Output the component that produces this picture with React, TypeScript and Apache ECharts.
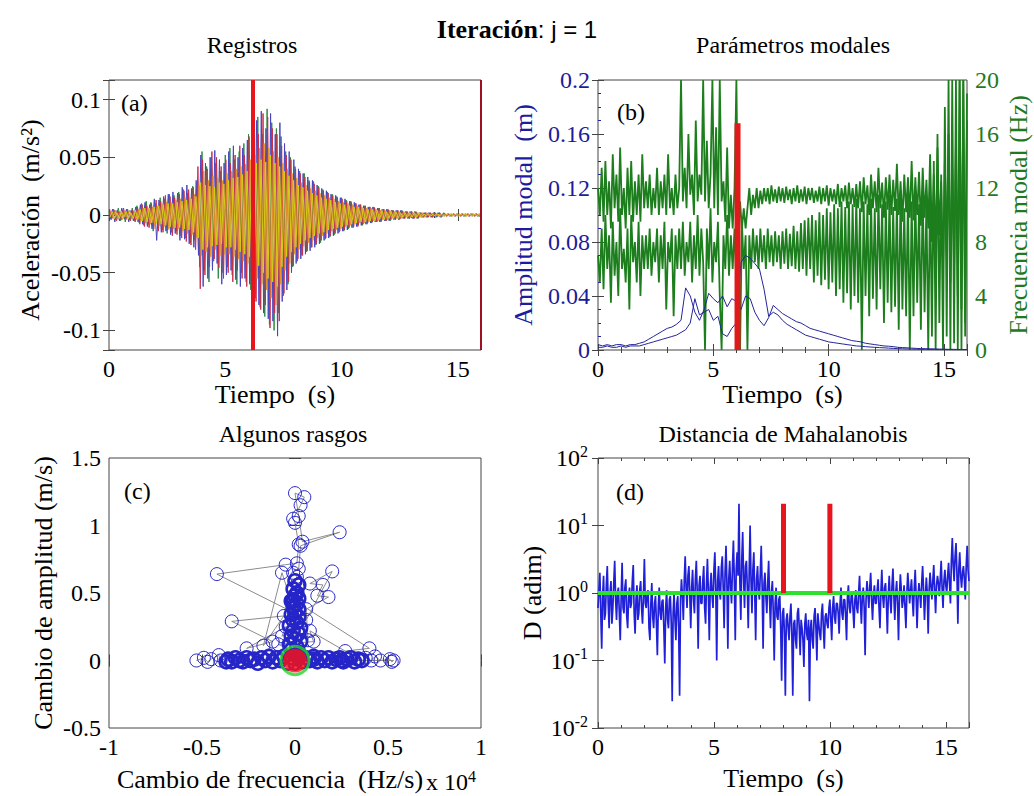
import React, { useEffect, useRef } from "react";
import * as echarts from "echarts";

const SERIF = "Liberation Serif";

// ---------- (a) Registros: accelerations, mm/s^2, sampled every accStep s ----------
const accStep = 0.1;
const accGreen = [3,-4,5,-3,6,-5,4,-6,5,-4,6,
 -5,8,-7,10,-9,12,-8,11,-14,10,
 -12,15,-13,14,-16,18,-15,17,-14,20,
 -18,22,-20,19,-24,25,-22,28,-45,55,
 -48,42,-58,50,-40,45,-55,38,-50,52,
 -45,58,-52,48,-60,55,-50,62,-58,70,
 -65,78,-72,85,-80,70,-88,92,-95,80,
 -100,75,-85,68,-70,55,-60,50,-45,42,
 -40,38,-35,36,-32,30,-28,29,-26,25,
 -24,22,-21,20,-19,18,-17,16,-15,15,
 -14,13,-12,12,-11,10,-10,9,-9,8,
 -8,7,-7,7,-6,6,-6,5,-5,5,
 -5,4,-4,4,-4,4,-3,3,-3,3,
 -3,3,-3,2,-2,2,-2,2,-2,2,
 -2,2,-2,2,-1,1,-1,1,-1,1,
 -1,1,-1,1,-1,1,-1,1,-1,0];
const accBlue = [-4,5,-6,4,-5,6,-3,5,-6,4,-5,
 7,-6,9,-8,11,-10,9,-12,14,-22,
 13,-15,16,-14,18,-17,20,-16,19,-22,
 24,-21,26,-25,23,-28,30,-35,52,-62,
 45,-55,50,-48,56,-42,48,-60,45,-52,
 55,-48,60,-56,50,-62,58,-55,65,-60,
 72,-70,82,-78,90,-85,75,-90,88,-92,
 70,-105,80,-75,62,-65,55,-50,48,-42,
 40,-38,36,-34,33,-31,30,-28,26,-25,
 23,-22,21,-20,18,-18,17,-16,15,-14,
 14,-13,12,-11,11,-10,9,-9,8,-8,
 7,-7,7,-6,6,-6,5,-5,5,-5,
 4,-4,4,-4,4,-3,3,-3,3,-3,
 3,-3,2,-2,2,-2,2,-2,2,-2,
 2,-2,1,-1,1,-1,1,-1,1,-1,
 1,-1,1,-1,1,-1,1,-1,1,0];
const accRed = [5,-3,4,-5,3,-4,6,-4,3,-5,4,
 -6,7,-8,9,-10,8,-11,10,-12,13,
 -14,12,-15,17,-13,16,-18,15,-17,18,
 -20,21,-23,22,-26,24,-30,42,-64,48,
 -52,40,-45,55,-38,50,-46,42,-55,48,
 -50,45,-58,52,-48,60,-55,52,-62,68,
 -60,65,-75,70,-82,88,-78,85,-98,75,
 -85,70,-92,60,-68,52,-58,48,-44,40,
 -38,36,-35,33,-31,29,-28,27,-25,24,
 -22,21,-20,19,-18,17,-16,15,-14,14,
 -13,12,-11,11,-10,10,-9,9,-8,8,
 -7,7,-6,6,-6,6,-5,5,-5,4,
 -4,4,-4,4,-3,3,-3,3,-3,3,
 -3,2,-2,2,-2,2,-2,2,-2,2,
 -1,2,-1,1,-1,1,-1,1,-1,1,
 -1,1,-1,1,-1,1,-1,1,-1,0];
const accOrange = [3,-2,4,-3,2,-4,3,-2,4,-3,2,
 -4,5,-5,6,-7,6,-8,7,-9,8,
 -9,10,-10,11,-12,11,-12,13,-12,14,
 -14,15,-16,15,-17,18,-20,25,-35,38,
 -32,30,-36,34,-30,32,-35,30,-34,36,
 -34,38,-36,40,-38,42,-40,44,-42,48,
 -46,52,-55,58,-60,62,-65,58,-72,55,
 -78,50,-60,45,-48,40,-42,36,-34,32,
 -30,28,-27,26,-24,23,-22,21,-20,19,
 -18,17,-16,15,-14,14,-13,12,-12,11,
 -10,10,-9,9,-8,8,-7,7,-7,6,
 -6,6,-5,5,-5,4,-4,4,-4,4,
 -3,3,-3,3,-3,3,-2,2,-2,2,
 -2,2,-2,2,-2,2,-1,1,-1,1,
 -1,1,-1,1,-1,1,-1,1,-1,1,
 -1,1,-1,1,-1,1,-1,1,-1,0];
const accYellow = [-2,3,-3,2,-3,3,-2,3,-3,2,-3,
 4,-4,5,-5,6,-6,6,-7,7,-7,
 8,-8,9,-9,10,-10,10,-11,11,-11,
 12,-12,13,-13,14,-15,16,-20,28,-30,
 26,-28,25,-27,24,-26,28,-25,27,-28,
 30,-28,32,-30,33,-32,35,-34,38,-36,
 40,-42,45,-44,48,-50,46,-55,52,-58,
 45,-62,42,-45,38,-36,34,-32,30,-28,
 26,-25,24,-22,21,-20,19,-18,17,-16,
 15,-15,14,-13,13,-12,11,-11,10,-10,
 9,-9,8,-8,7,-7,7,-6,6,-6,
 5,-5,5,-5,4,-4,4,-4,3,-3,
 3,-3,3,-3,2,-2,2,-2,2,-2,
 2,-2,2,-2,1,-1,1,-1,1,-1,
 1,-1,1,-1,1,-1,1,-1,1,-1,
 1,-1,1,-1,1,-1,1,-1,1,0];
// start time of each channel's sampling (s)
const accStart = [0, 0.05, 0.025, 0.075, 0.04];
const accEventTime = 6.2;
const accEndTime = 16;

// ---------- (b) Parámetros modales ----------
const freqStep = 0.08;
const freqUpper = [12,10,13.5,9.5,14,10,12.5,9,14.5,10.5,
 13,9.5,15,10,12,9,13.5,10,14,9.5,
 12.5,10,13,9.5,14.5,10.5,
 12.5,10.5,13,10,12,10.5,13.5,10,12.5,10.5,
 13,10,14.5,10.5,12,10,13,10.5,12,
 20,
 11,13.5,10.5,16,11.5,13,10,17,11,13,
 11.5,20,11,15.5,10.5,13,20,10.5,16.5,10,
 20,11,12.5,9.5,15,9,11.5,9,12,20,
 8.5,11,9,10.5,9,
 10.5,12,10,11.5,10.5,12,10.5,11.8,10.8,12,
 11,12,10.8,12.2,11,11.9,10.9,12.1,11,12,
 10.9,12.1,11.1,11.9,10.8,12,11,12.2,10.9,11.9,
 11,12.1,10.8,12,11.1,12,10.9,11.8,11,12.1,
 10.8,12,11,12.2,10.7,12,11,11.9,10.8,12.3,
 10.6,12,11,12.2,10.5,12.4,10.8,12,10.6,12.3,
 10.5,12.5,10.2,12.8,10.8,12.2,10,13,10.5,12.5,
 10.2,13.5,10.5,12.4,9.8,12.8,10.4,13,10,12.6,
 10.3,13.8,10,12.5,9.5,13,10.2,12.8,9.8,14,
 9.6,12.8,10,13.2,9.2,13.5,9.8,12.6,9,14.5,
 8,13,7.5,15,8.5,12.5,6,14,7,16,
 5,13.5,6,15.5,4,20,3,20,2,19];
const freqLower = [7,5,9,4.5,10,6,8.5,3.5,9.5,5.5,
 8,4,10.5,6,7.5,5,9,3,10,6.5,
 8,5,9.5,4,8.5,6,
 8.5,6,9,5.5,8,6.5,9,5,8.5,6,
 9.5,3,8,6.5,9,2.5,8.5,6,9,
 6,9.5,5.5,8,6.5,9.5,5,8.5,6,10,
 5.5,9,6.5,0,9,6,10.5,5,8,6.5,
 9.5,4,0,8.5,6,10,5.5,8.5,6,9,
 5,8,0,9.5,6,8.5,
 0,8.5,6,9,6.5,8.5,6,9,6.5,8.5,
 6,9,6.5,8.5,6.2,8.8,6.5,8.5,6,8.8,
 6.4,9,6,8.6,6.2,9.2,6,8.8,5.8,9.4,
 6,9.6,5.5,9.8,6,10,5,9.6,5.5,10.2,
 4.8,10,5.2,10.5,4.5,10.2,5,10.8,4,10.5,
 4.5,11,3.5,10.6,4.2,11,3,10.8,4,11.2,
 3.5,10.5,0,11,4,10.8,2.5,11.2,3.8,10.5,
 3,11.5,4.5,10.8,2,11,3.5,11.5,2.8,10.6,
 3.2,11.2,1.5,11.8,3,10.5,2.5,11.4,0,11,
 2.5,11.8,3.5,10.8,1.5,12,2.8,11,0,12.2,
 1,14,0,16,2,13,0,18,1,20,
 0,20,0.5,20,0,20,0,20,1,17];
const ampStep = 0.2;
const ampMode1 = [.004,.003,.004,.003,.004,.004,.003,.004,.004,.005,
 .006,.008,.010,.012,.014,.016,.017,.019,.022,.046,
 .040,.028,.022,.030,.042,.038,.035,.040,.032,.038,
 .036,.030,.040,.038,.028,.022,.018,.024,.033,.030,
 .027,.025,.023,.021,.020,.018,.016,.015,.014,.013,
 .012,.011,.010,.009,.008,.007,.0065,.006,.005,.0045,
 .004,.0035,.003,.0028,.0025,.002,.0018,.0016,.0014,.0012,
 .001,.001,.0009,.0008,.0007,.0006,.0005,.0005,.0004,.0004,
 .0003];
const ampMode2 = [.002,.002,.003,.002,.002,.003,.002,.003,.003,.003,
 .004,.005,.006,.007,.008,.009,.010,.011,.013,.015,
 .020,.038,.026,.028,.030,.022,.025,.012,.010,.016,
 .020,.065,.070,.068,.064,.060,.045,.025,.028,.026,
 .022,.019,.017,.015,.013,.011,.010,.009,.008,.007,
 .006,.0055,.005,.0045,.004,.0035,.003,.0028,.0025,.0022,
 .002,.0018,.0016,.0014,.0012,.001,.0009,.0008,.0007,.0006,
 .0005,.0005,.0004,.0004,.0003,.0003,.0003,.0002,.0002,.0002,
 .0002];
const modalEventTime = 6.05;
const modalEventHeight = 0.168;

// ---------- (c) Algunos rasgos: [cambio de frecuencia (x1e4 Hz/s), cambio de amplitud (m/s)] ----------
const featPath = [
 [-0.53,0.0],[-0.49,0.02],[-0.47,-0.01],[-0.45,0.01],[-0.41,0.04],[-0.4,0.0],[-0.37,-0.01],
 [-0.36,0.01],[-0.34,-0.01],[-0.32,0.02],[-0.30,0.0],[-0.28,-0.01],[-0.26,0.02],[-0.24,0.0],[-0.22,0.01],
 [-0.20,-0.02],[-0.18,0.02],[-0.16,0.0],[-0.14,0.03],[-0.12,-0.01],[-0.10,0.02],[-0.08,0.0],[-0.06,0.03],
 [-0.04,-0.02],[-0.02,0.02],[0.0,-0.02],[0.02,0.03],[0.04,-0.01],[0.06,0.02],[0.08,0.0],[0.10,0.03],
 [0.12,-0.01],[0.14,0.02],[0.16,0.0],[0.18,0.02],[0.20,-0.01],[0.22,0.01],[0.24,0.02],[0.26,-0.01],
 [0.28,0.01],[0.30,0.02],[0.32,-0.01],[0.34,0.01],[0.36,0.0],
 [0.38,0.02],[0.41,0.0],[0.43,0.03],[0.46,0.0],[0.51,0.01],[0.52,-0.01],[0.53,0.0],
 [0.25,0.0],[0.1,0.01],[0.02,0.02],
 [0.0,0.04],[0.02,0.06],[-0.02,0.08],[0.01,0.10],[-0.03,0.12],[0.03,0.14],[0.0,0.16],[-0.02,0.18],
 [0.02,0.20],[-0.01,0.22],[0.03,0.24],[-0.03,0.26],[0.01,0.28],[-0.01,0.30],[0.02,0.32],[-0.02,0.34],
 [0.0,0.36],[0.02,0.38],[-0.01,0.40],[0.01,0.42],[-0.02,0.44],[0.02,0.46],[0.0,0.48],[0.01,0.50],
 [-0.01,0.53],[0.02,0.56],[0.0,0.59],[0.01,0.62],[-0.01,0.65],[0.02,0.68],
 [0.03,0.85],[0.24,0.95],[0.04,0.88],[0.02,1.07],[0.0,1.24],[0.05,1.21],[0.03,1.15],
 [-0.01,1.05],[0.0,1.02],[0.02,0.86],[0.01,0.72],[-0.05,0.71],[-0.42,0.64],[0.0,0.35],[-0.07,0.65],[-0.17,0.11],[-0.06,0.33],
 [-0.34,0.29],[-0.12,0.14],[-0.26,0.09],[-0.05,0.25],[-0.07,0.18],[0.06,0.3],[0.2,0.66],[0.08,0.57],[0.15,0.56],[0.12,0.48],
 [0.18,0.47],[0.06,0.38],[0.07,0.15],[-0.01,0.45],[0.4,0.09],[0.27,0.07],[0.08,0.22],[0.1,0.14],[-0.09,0.12],[0.02,0.05]
];
const featCenter = [0, 0];

// ---------- (d) Distancia de Mahalanobis (sampled every distStep s) ----------
const distStep = 0.04;
const distValues = [
 0.6,1.1,2,0.5,0.15,0.9,1.8,0.4,0.5,1.3,2.5,0.7,0.3,1.0,1.5,0.35,0.6,1.4,3,0.8,
 0.4,1.0,1.2,0.5,0.2,0.9,2.8,0.6,0.5,1.2,1.6,0.45,0.3,0.9,1.2,0.6,0.7,1.5,2.6,0.5,
 0.25,0.8,1.3,0.4,0.5,1.1,1.5,0.6,0.35,0.9,3.2,0.7,0.6,1.0,1.1,0.3,0.2,0.7,1.4,0.45,
 0.3,0.7,0.9,0.35,0.12,0.6,1.2,0.5,0.4,0.75,0.8,0.3,0.09,0.6,1.1,0.4,0.3,0.8,0.9,0.35,
 0.025,0.5,1.0,0.4,0.2,0.7,0.9,0.3,0.03,0.8,1.6,0.9,0.4,1.5,3.5,1.2,0.6,1.8,2.5,0.9,
 0.3,1.2,2.2,0.8,0.5,1.6,3,1.0,0.15,1.3,1.8,0.7,0.7,1.5,2.5,0.6,0.35,1.4,3.2,1.0,
 0.2,1.2,2,0.9,0.6,2.2,4,1.1,0.1,1.5,2.5,1.0,0.8,2.4,3.5,1.2,0.3,2.0,5,1.4,
 0.15,1.6,3,1.2,0.7,2.5,6,1.5,0.2,2.2,4,1.8,21,1.4,0.4,3.0,8,1.6,0.6,2.5,
 3,1.2,0.3,2.0,10,1.5,0.5,2.2,4,1.0,0.2,1.6,2.5,1.1,0.8,2.0,5,1.2,0.15,1.4,
 2,0.9,0.5,1.4,3,0.8,0.3,1.0,1.5,0.5,0.1,0.7,1.2,0.45,0.4,0.8,0.9,0.3,0.05,0.5,
 0.6,0.25,0.03,0.4,0.5,0.3,0.2,0.45,0.7,0.25,0.03,0.35,0.4,0.2,0.15,0.5,0.6,0.3,0.12,0.4,
 0.3,0.2,0.08,0.35,0.5,0.25,0.2,0.4,0.025,0.3,0.4,0.2,0.15,0.45,0.6,0.3,0.1,0.5,0.35,0.25,
 0.2,0.5,0.7,0.3,0.15,0.45,0.5,0.35,0.3,0.6,0.8,0.4,0.2,0.6,0.9,0.45,0.35,0.7,0.7,0.5,
 0.25,0.7,1.2,0.5,0.4,0.8,0.8,0.45,0.2,0.9,1.3,0.6,0.5,0.9,1.0,0.55,0.3,0.8,1.1,0.6,
 0.5,1.0,1.8,0.7,0.35,0.9,1.2,0.6,0.12,0.8,1.5,1.0,0.6,1.2,2,0.8,0.4,0.9,1.3,0.7,
 0.7,1.1,1.6,0.6,0.3,1.0,2.2,0.9,0.6,1.2,1.4,0.7,0.25,0.9,1.8,0.8,0.5,1.3,2.3,0.9,
 0.4,1.0,1.5,0.7,0.2,0.9,1.9,1.1,0.6,0.8,1.3,0.6,0.3,1.0,2,1.2,0.7,1.1,1.6,0.8,
 0.45,1.2,2.2,0.9,0.3,0.8,1.4,1.0,0.6,1.4,2.5,1.1,0.4,0.9,1.7,1.0,0.25,1.1,2,1.3,
 0.8,1.5,2.6,1.1,0.5,1.3,1.8,1.4,0.9,1.6,3,1.2,0.6,1.5,2.2,1.3,1.0,1.8,2.8,1.4,
 0.7,3.0,6.5,2.5,1.5,3.5,5.5,2.0,0.35,2.2,4,1.8,1.2,2.0,2.5,1.6,0.8,2.5,5,2.2,
 1.5];
const distThreshold = 1;
const alarmTimes = [8, 10];
const alarmTop = 21;

// ---------- layout ----------
const grids = [
  { left: 109, top: 80, width: 372, height: 270 },
  { left: 598, top: 80, width: 369, height: 270 },
  { left: 109, top: 458, width: 372, height: 270 },
  { left: 598, top: 458, width: 371, height: 270 },
];

const tick = { show: true, inside: true, length: 6, lineStyle: { color: "#444", width: 1 } };
const minor = { show: true, splitNumber: 5, length: 3, lineStyle: { color: "#444", width: 1 } };
const labelStyle = { fontFamily: SERIF, fontSize: 24, color: "#000" };
const nameStyle = { fontFamily: SERIF, fontSize: 26, color: "#000" };

const toSeries = (vals: number[], step: number, scale = 1, start = 0) =>
  vals.map((v, i) => [Math.round((start + i * step) * 1000) / 1000, v * scale]);

function buildOption() {
  const fmtStep = (step: number) => (v: number) => {
    const k = Math.round(v / step);
    if (Math.abs(v - k * step) > 1e-6) return "";
    return k === 0 ? "0" : String(+(k * step).toFixed(3));
  };
  const timeX = (gi: number, nameGap: number, shift = 0) => ({
    type: "value", gridIndex: gi, min: 0, max: 16, splitNumber: 3,
    axisLine: { show: false }, splitLine: { show: false }, axisTick: tick, minorTick: minor,
    axisLabel: { ...labelStyle, margin: 7, formatter: fmtStep(5) },
    name: "Tiempo  (s)", nameLocation: "middle", nameGap,
    nameTextStyle: { ...nameStyle, padding: [0, shift, 0, 0] },
  });
  const mirrorX = (gi: number, min: number, max: number, withMinor: boolean, extra: any = {}) => ({
    type: "value", gridIndex: gi, position: "top", min, max, ...extra,
    axisLine: { show: false }, splitLine: { show: false }, axisLabel: { show: false },
    axisTick: tick, minorTick: withMinor ? minor : { show: false },
  });
  const mirrorY = (gi: number, min: number, max: number, extra: any = {}) => ({
    type: "value", gridIndex: gi, position: "right", min, max, ...extra,
    axisLine: { show: false }, splitLine: { show: false }, axisLabel: { show: false },
    axisTick: tick,
  });

  const xAxis: any[] = [
    timeX(0, 25, 40),
    timeX(1, 25),
    {
      type: "value", gridIndex: 2, min: -1, max: 1, interval: 0.5,
      axisLine: { show: false }, splitLine: { show: false }, axisTick: tick,
      axisLabel: { ...labelStyle, margin: 7 },
      name: "Cambio de frecuencia  (Hz/s)", nameLocation: "middle", nameGap: 38,
      nameTextStyle: { ...nameStyle, padding: [0, 50, 0, 0] },
    },
    timeX(3, 37),
    mirrorX(0, 0, 16, true, { splitNumber: 3 }),
    mirrorX(1, 0, 16, true, { splitNumber: 3 }),
    mirrorX(2, -1, 1, false, { interval: 0.5 }),
    mirrorX(3, 0, 16, true, { splitNumber: 3 }),
  ];

  const logRich = {
    b: { fontFamily: SERIF, fontSize: 24, color: "#000", lineHeight: 30 },
    e: { fontFamily: SERIF, fontSize: 16, color: "#000", verticalAlign: "top", lineHeight: 30 },
  };

  const yAxis: any[] = [
    {
      type: "value", gridIndex: 0, min: -0.117, max: 0.117, splitNumber: 5,
      axisLine: { show: false }, splitLine: { show: false }, axisTick: tick,
      axisLabel: { ...labelStyle, margin: 8, formatter: fmtStep(0.05) },
      name: "Aceleración  (m/s²)", nameLocation: "middle", nameGap: 66,
      nameTextStyle: { ...nameStyle, padding: [0, 10, 0, 0] },
    },
    {
      type: "value", gridIndex: 1, min: 0, max: 0.2, interval: 0.04, position: "left",
      axisLine: { show: false }, splitLine: { show: false }, axisTick: tick,
      minorTick: { ...minor, splitNumber: 4, lineStyle: { color: "#2020a0" } },
      axisLabel: { ...labelStyle, color: "#1c1c9c", margin: 8, formatter: (v: number) => (v === 0 ? "0" : String(+v.toFixed(2))) },
      name: "Amplitud modal  (m)", nameLocation: "middle", nameGap: 62,
      nameTextStyle: { ...nameStyle, color: "#1c1c9c" },
    },
    {
      type: "value", gridIndex: 1, min: 0, max: 20, interval: 4, position: "right",
      axisLine: { show: false }, splitLine: { show: false }, axisTick: tick,
      axisLabel: { ...labelStyle, color: "#1f7a1f", margin: 8 },
      name: "Frecuencia modal (Hz)", nameLocation: "middle", nameGap: 38,
      nameTextStyle: { ...nameStyle, color: "#1f7a1f" },
    },
    {
      type: "value", gridIndex: 2, min: -0.5, max: 1.5, interval: 0.5,
      axisLine: { show: false }, splitLine: { show: false }, axisTick: tick,
      axisLabel: { ...labelStyle, margin: 8 },
      name: "Cambio de amplitud (m/s)", nameLocation: "middle", nameGap: 53, nameTextStyle: nameStyle,
    },
    {
      type: "log", logBase: 10, gridIndex: 3, min: 0.01, max: 100,
      axisLine: { show: false }, splitLine: { show: false }, axisTick: tick,
      axisLabel: {
        margin: 10, fontFamily: SERIF,
        formatter: (v: number) => `{b|10}{e|${Math.round(Math.log10(v))}}`,
        rich: logRich,
      },
      name: "D (adim)", nameLocation: "middle", nameGap: 53, nameTextStyle: nameStyle,
    },
    mirrorY(0, -0.117, 0.117, { splitNumber: 5 }),
    mirrorY(2, -0.5, 1.5, { interval: 0.5 }),
    { ...mirrorY(3, 0.01, 100), type: "log", logBase: 10 },
  ];

  const thin = (color: string, width = 1) => ({ color, width });
  const series: any[] = [];

  // (a)
  const accSets: [string, number[], string][] = [
    ["verde", accGreen, "#2b8a3e"],
    ["azul", accBlue, "#4646c4"],
    ["rojo", accRed, "#c8304a"],
    ["naranja", accOrange, "#e8902a"],
    ["amarillo", accYellow, "#d6cf10"],
  ];
  accSets.forEach(([name, vals, color], idx) => {
    const s: any = {
      name, type: "line", xAxisIndex: 0, yAxisIndex: 0, showSymbol: false,
      data: toSeries(vals, accStep, 0.001, accStart[idx]), lineStyle: thin(color), itemStyle: { color },
    };
    if (idx === accSets.length - 1) {
      s.markLine = {
        silent: true, symbol: ["none", "none"], label: { show: false },
        data: [
          { xAxis: accEventTime, lineStyle: { color: "#e8141e", width: 4, type: "solid" } },
          { xAxis: accEndTime, lineStyle: { color: "#a01020", width: 2, type: "solid" } },
        ],
      };
    }
    series.push(s);
  });

  // (b)
  [freqUpper, freqLower].forEach((vals, k) =>
    series.push({
      name: "frecuencia " + (k + 1), type: "line", xAxisIndex: 1, yAxisIndex: 2, showSymbol: false,
      data: toSeries(vals, freqStep), lineStyle: thin("#1c7e1c", 1.8), itemStyle: { color: "#1c7e1c" },
    })
  );
  [ampMode1, ampMode2].forEach((vals, k) =>
    series.push({
      name: "amplitud " + (k + 1), type: "line", xAxisIndex: 1, yAxisIndex: 1, showSymbol: false,
      data: toSeries(vals, ampStep), lineStyle: thin("#25259a"), itemStyle: { color: "#25259a" },
    })
  );
  series.push({
    name: "evento", type: "line", xAxisIndex: 1, yAxisIndex: 1, showSymbol: false,
    data: [[modalEventTime, 0], [modalEventTime, modalEventHeight]],
    lineStyle: thin("#e01a1a", 6), itemStyle: { color: "#e01a1a" },
  });

  // (c)
  const isCore = ([x, y]: number[]) =>
    (Math.abs(x) <= 0.37 && Math.abs(y) <= 0.035) || (Math.abs(x) <= 0.035 && y <= 0.6 && y >= 0);
  series.push({
    name: "rasgos", type: "line", xAxisIndex: 2, yAxisIndex: 3, z: 2,
    data: featPath.map((p) =>
      isCore(p) ? { value: p, itemStyle: { borderWidth: 2.6 } } : { value: p }
    ),
    symbol: "circle", symbolSize: 13, showSymbol: true,
    lineStyle: thin("#8c8c8c"),
    itemStyle: { color: "rgba(0,0,0,0)", borderColor: "#2525c8", borderWidth: 1 },
  });
  series.push({
    name: "centro", type: "scatter", xAxisIndex: 2, yAxisIndex: 3, z: 10,
    data: [featCenter], symbolSize: 24, itemStyle: { color: "#ff1010" },
  });
  series.push({
    name: "umbral", type: "scatter", xAxisIndex: 2, yAxisIndex: 3, z: 11,
    data: [featCenter], symbolSize: 28,
    itemStyle: { color: "rgba(0,0,0,0)", borderColor: "#26d426", borderWidth: 3 },
  });

  // (d)
  series.push({
    name: "distancia", type: "line", xAxisIndex: 3, yAxisIndex: 4, showSymbol: false,
    data: toSeries(distValues, distStep), lineStyle: thin("#2020d8", 1.7), itemStyle: { color: "#2020d8" },
  });
  series.push({
    name: "umbral D", type: "line", xAxisIndex: 3, yAxisIndex: 4, showSymbol: false,
    data: [[0, distThreshold], [16, distThreshold]], lineStyle: thin("#2ee02e", 4), itemStyle: { color: "#2ee02e" },
  });
  alarmTimes.forEach((t, k) =>
    series.push({
      name: "alarma " + (k + 1), type: "line", xAxisIndex: 3, yAxisIndex: 4, showSymbol: false,
      data: [[t, distThreshold], [t, alarmTop]], lineStyle: thin("#e8141e", 5), itemStyle: { color: "#e8141e" },
    })
  );

  const panelTitle = (text: string, x: number, y: number) => ({
    text, left: x, top: y, textAlign: "center",
    textStyle: { fontFamily: SERIF, fontSize: 24, fontWeight: "normal", color: "#000" },
  });

  const tag = (text: string, x: number, y: number) => ({
    type: "text", left: x, top: y,
    style: { text, font: `24px "${SERIF}"`, fill: "#000" },
  });

  return {
    animation: false,
    backgroundColor: "#fff",
    textStyle: { fontFamily: SERIF },
    grid: grids.map((g) => ({ ...g, show: true, borderColor: "#444", borderWidth: 1, containLabel: false })),
    title: [
      panelTitle("Registros", 247, 28),
      panelTitle("Parámetros modales", 788, 28),
      panelTitle("Algunos rasgos", 288, 417),
      panelTitle("Distancia de Mahalanobis", 778, 417),
    ],
    xAxis,
    yAxis,
    series,
    graphic: [
      {
        type: "text", left: "center", top: 16,
        style: {
          text: "{b|Iteración}{n|: j = 1}",
          rich: {
            b: { fontFamily: SERIF, fontSize: 26, fontWeight: "bold", fill: "#000" },
            n: { fontFamily: "Liberation Sans", fontSize: 24, fill: "#000" },
          },
        },
      },
      tag("(a)", 121, 91),
      tag("(b)", 617, 100),
      tag("(c)", 124, 479),
      tag("(d)", 616, 480),
      {
        type: "text", left: 426, top: 768,
        style: {
          text: "{b|x 10}{e|4}",
          rich: {
            b: { fontFamily: SERIF, fontSize: 24, fill: "#000", lineHeight: 28 },
            e: { fontFamily: SERIF, fontSize: 16, fill: "#000", verticalAlign: "top", lineHeight: 28 },
          },
        },
      },
    ],
  };
}

export default function App() {
  const ref = useRef<HTMLDivElement>(null);
  useEffect(() => {
    if (!ref.current) return;
    const chart = echarts.init(ref.current, undefined, { renderer: "svg" });
    chart.setOption(buildOption() as any);
    return () => chart.dispose();
  }, []);
  return (
    <div
      ref={ref}
      style={{ position: "absolute", left: 0, top: 0, width: 1034, height: 796, background: "#fff" }}
    />
  );
}
